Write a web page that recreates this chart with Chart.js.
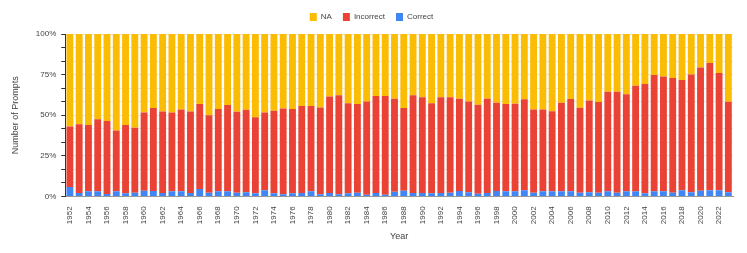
<!DOCTYPE html>
<html>
<head>
<meta charset="utf-8">
<script src="https://cdn.jsdelivr.net/npm/chart.js@4.4.1/dist/chart.umd.min.js"></script>
<style>
  html, body { margin: 0; padding: 0; background: #fff; }
  #wrap { width: 747px; height: 253px; }
</style>
</head>
<body>
<div id="wrap"><canvas id="promptChart"></canvas></div>
<script>
// share of prompts per year, in percent
const years = [];
for (let y = 1952; y <= 2023; y++) years.push(String(y));

const correct = [
  5.8, 2.1, 3.1, 3.1, 1.5, 3.1, 1.9, 2.3, 3.5, 3.3,
  2.1, 3.1, 3.1, 2.1, 4.6, 2.3, 3.1, 3.1, 2.3, 2.5,
  1.9, 3.8, 1.9, 1.3, 1.9, 2.1, 3.1, 1.3, 2.1, 1.3,
  1.9, 2.3, 1.0, 2.1, 1.0, 2.9, 3.5, 2.1, 2.1, 1.9,
  2.1, 2.3, 3.3, 2.5, 1.7, 2.1, 3.3, 3.1, 3.1, 3.8,
  2.3, 3.1, 3.1, 3.1, 3.1, 2.3, 2.5, 2.3, 3.1, 2.3,
  3.1, 3.1, 1.9, 3.1, 3.1, 2.3, 3.8, 2.5, 3.5, 3.8,
  3.8, 2.5
];
const incorrect = [
  37.3, 42.3, 40.9, 44.4, 45.0, 37.5, 42.1, 40.0, 48.2, 51.1,
  50.2, 48.6, 50.4, 50.2, 52.3, 47.7, 50.7, 53.2, 49.8, 50.8,
  46.9, 47.9, 50.8, 52.9, 51.9, 53.5, 52.5, 53.5, 59.4, 61.0,
  55.4, 54.6, 57.5, 59.8, 60.9, 57.3, 50.9, 60.2, 58.9, 55.4,
  58.9, 58.7, 56.9, 56.0, 54.8, 58.1, 54.4, 53.8, 54.0, 56.0,
  51.2, 50.4, 49.4, 54.6, 56.9, 52.3, 56.5, 55.8, 61.3, 62.1,
  59.8, 65.0, 67.3, 71.7, 70.7, 70.6, 67.9, 72.5, 75.9, 78.3,
  72.2, 55.8
];
const na = [
  56.9, 55.6, 56.0, 52.5, 53.5, 59.4, 56.0, 57.7, 48.3, 45.6,
  47.7, 48.3, 46.5, 47.7, 43.1, 50.0, 46.2, 43.7, 47.9, 46.7,
  51.2, 48.3, 47.3, 45.8, 46.2, 44.4, 44.4, 45.2, 38.5, 37.7,
  42.7, 43.1, 41.5, 38.1, 38.1, 39.8, 45.6, 37.7, 39.0, 42.7,
  39.0, 39.0, 39.8, 41.5, 43.5, 39.8, 42.3, 43.1, 42.9, 40.2,
  46.5, 46.5, 47.5, 42.3, 40.0, 45.4, 41.0, 41.9, 35.6, 35.6,
  37.1, 31.9, 30.8, 25.2, 26.2, 27.1, 28.3, 25.0, 20.6, 17.9,
  24.0, 41.7
];

const textColor = '#444';
const fontFamily = '"Liberation Sans", Arial, sans-serif';

// a bit more room under the legend
const legendGap = {
  id: 'legendGap',
  beforeInit(chart) {
    const fit = chart.legend.fit;
    chart.legend.fit = function() {
      fit.bind(chart.legend)();
      this.height += 3;
    };
  }
};

const ctx = document.getElementById('promptChart').getContext('2d');
new Chart(ctx, {
  type: 'bar',
  data: {
    labels: years,
    datasets: [
      { label: 'Correct', data: correct, backgroundColor: '#4285F4' },
      { label: 'Incorrect', data: incorrect, backgroundColor: '#EA4335' },
      { label: 'NA', data: na, backgroundColor: '#FBBC04' }
    ]
  },
  options: {
    responsive: true,
    maintainAspectRatio: false,
    animation: false,
    layout: { padding: { left: 10, right: 14, top: 2, bottom: 11 } },
    datasets: {
      bar: { barPercentage: 0.74, categoryPercentage: 1.0, borderWidth: 0 }
    },
    plugins: {
      legend: {
        position: 'top',
        reverse: true,
        labels: {
          boxWidth: 7,
          boxHeight: 8,
          padding: 11,
          color: textColor,
          font: { family: fontFamily, size: 8 }
        }
      },
      tooltip: { enabled: false }
    },
    scales: {
      x: {
        stacked: true,
        grid: { display: false },
        border: { display: true, color: '#999' },
        title: {
          display: true,
          text: 'Year',
          color: textColor,
          font: { family: fontFamily, size: 9 },
          padding: { top: 5, bottom: 0 }
        },
        ticks: {
          autoSkip: false,
          maxRotation: 90,
          minRotation: 90,
          padding: 2,
          color: textColor,
          font: { family: fontFamily, size: 8 },
          callback: function(value, index) {
            return index % 2 === 0 ? this.getLabelForValue(value) : '';
          }
        }
      },
      y: {
        stacked: true,
        min: 0,
        max: 100,
        grid: { color: '#e6e6e6', tickColor: '#333', tickLength: 4 },
        border: { display: true, color: '#333' },
        title: {
          display: true,
          text: 'Number of Prompts',
          color: textColor,
          font: { family: fontFamily, size: 9 },
          padding: { top: 0, bottom: 10 }
        },
        ticks: {
          stepSize: 100 / 12,
          autoSkip: false,
          padding: 5,
          color: textColor,
          font: { family: fontFamily, size: 8 },
          callback: function(value) {
            const step = Math.round(value * 12 / 100);
            return step % 3 === 0 ? Math.round(value) + '%' : '';
          }
        }
      }
    }
  },
  plugins: [legendGap]
});
</script>
</body>
</html>
